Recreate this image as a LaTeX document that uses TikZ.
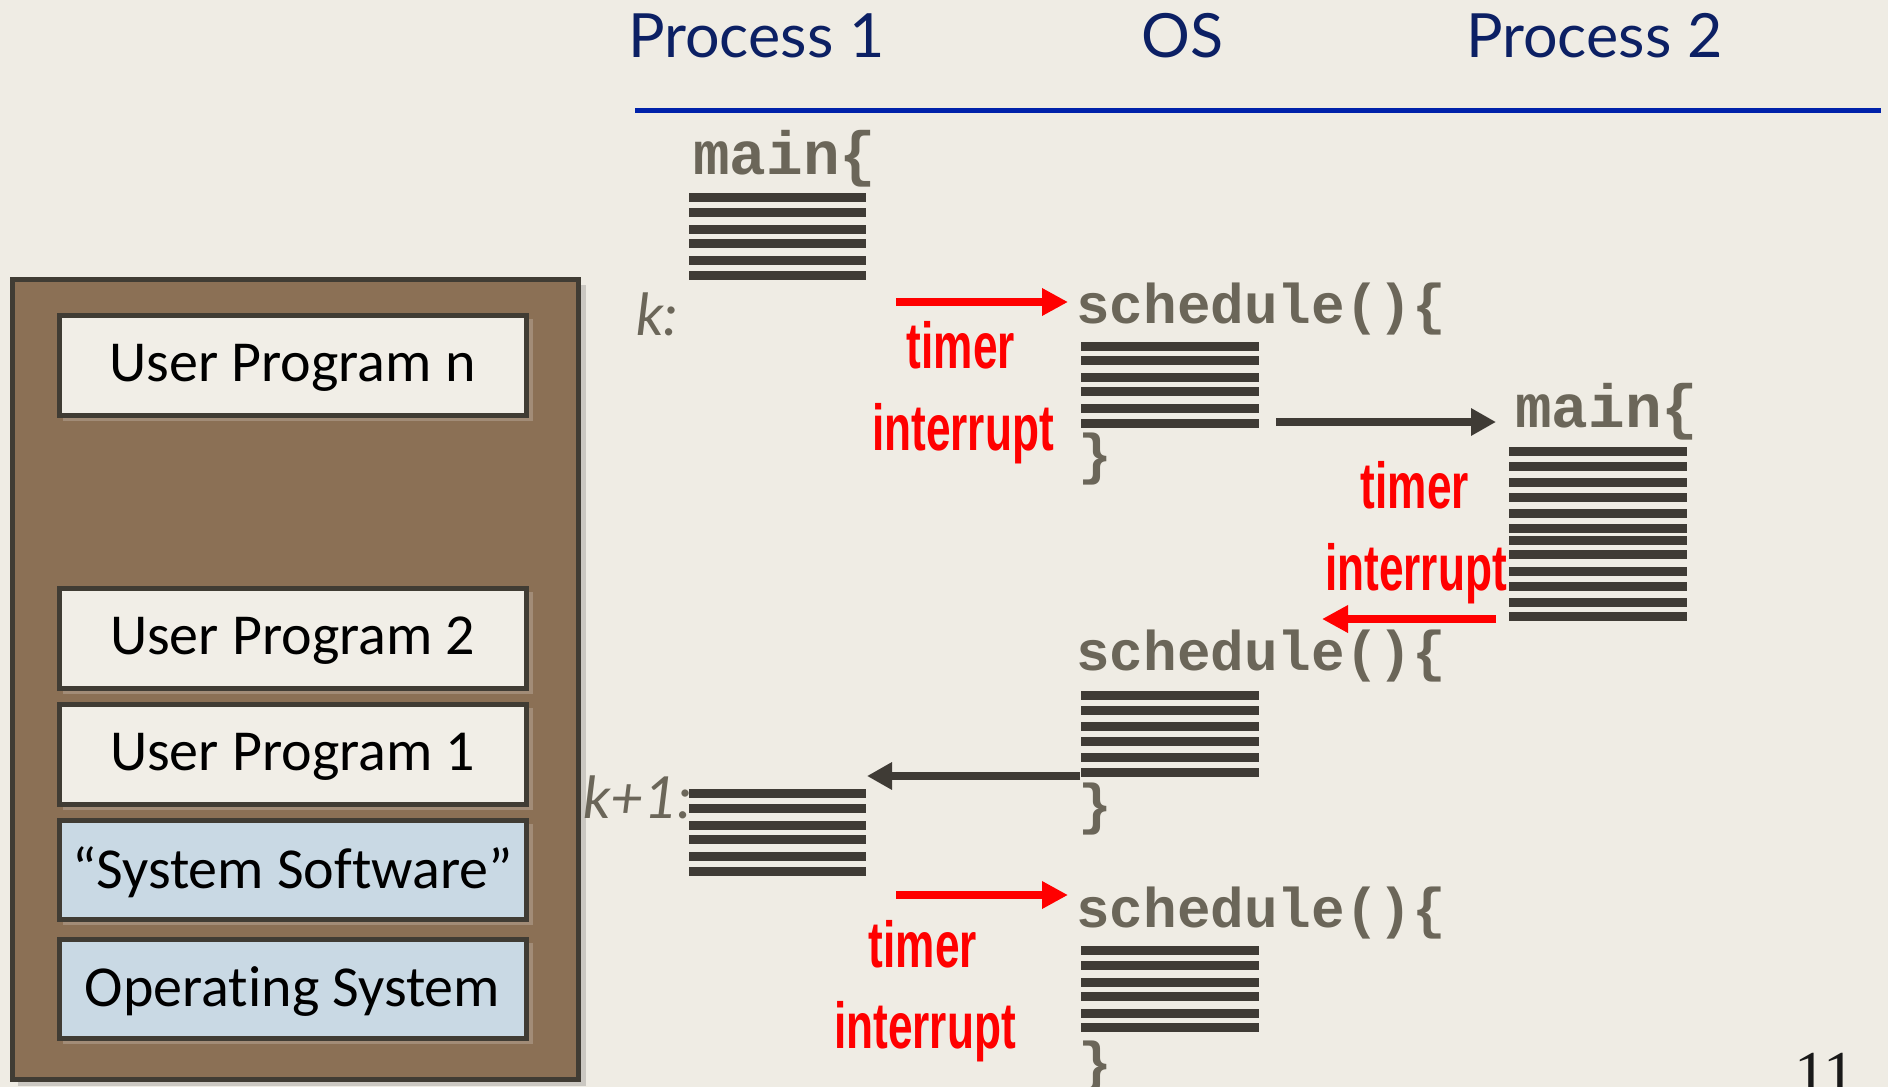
\documentclass[tikz,border=0pt]{standalone}
\usepackage{fontspec}
\setmainfont{Lato}
\newfontfamily\boxfont[Ligatures=NoCommon]{Carlito}
\newfontfamily\codefont{Liberation Mono}
\newfontfamily\impactfont[FakeStretch=0.68]{Liberation Sans}
\newfontfamily\numfont{Liberation Serif}
\usetikzlibrary{arrows.meta}
\definecolor{bgc}{RGB}{239,236,228}
\definecolor{navyc}{RGB}{12,32,100}
\definecolor{rulec}{RGB}{0,34,170}
\definecolor{codec}{RGB}{107,102,89}
\definecolor{barc}{RGB}{63,59,53}
\definecolor{brownc}{RGB}{139,112,85}
\definecolor{framec}{RGB}{64,60,52}
\definecolor{lightc}{RGB}{241,238,231}
\definecolor{bluec}{RGB}{201,217,228}
\definecolor{irqc}{RGB}{255,0,0}
\begin{document}
\begin{tikzpicture}[x=1pt,y=-1pt,
  hdr/.style={font=\fontsize{61}{70}\selectfont, text=navyc, inner sep=0, anchor=base west},
  klabel/.style={font=\fontsize{58}{66}\selectfont\itshape, text=codec, inner sep=0, anchor=base west},
  code/.style={font=\codefont\bfseries\fontsize{56}{60}\selectfont, text=codec, inner sep=0, anchor=base west},
  irq/.style={font=\impactfont\bfseries\fontsize{65}{70}\selectfont, text=irqc, inner sep=0, anchor=base},
  prog/.style={draw=framec, line width=5, minimum width=467, minimum height=100, inner sep=0,
    font=\boxfont\fontsize{58}{64}\selectfont, text=black, fill=lightc, text depth=4pt},
  sysprog/.style={prog, fill=bluec},
  redflow/.style={draw=irqc, line width=8, -{Triangle[length=26pt,width=26pt]}},
  blkflow/.style={draw=barc, line width=8, -{Triangle[length=25pt,width=26pt]}},
  bar/.style={fill=barc}
]
\useasboundingbox (0,0) rectangle (1888,1087);
\fill[bgc] (0,0) rectangle (1888,1087);
\clip (0,0) rectangle (1888,1087);

% header
\node[hdr] (p1) at (628,57) {Process 1};
\node[hdr] (os) at (1141,57) {OS};
\node[hdr] (p2) at (1466,57) {Process 2};
\coordinate (ruleL) at (635,110);
\coordinate (ruleR) at (1881,110);
\draw[rulec, line width=5] (ruleL) -- (ruleR);

% left panel
\fill[black, opacity=0.15] (18,285) rectangle (586,1086);
\node[draw=framec, line width=5, fill=brownc, minimum width=566, minimum height=800, inner sep=0] (mem) at (295,679) {};
\foreach \cy/\h in {365/100,638/100,754/100,869.5/99,988.5/99}
  \fill[brownc!60!white, opacity=0.5] (63,\cy-\h/2+4) rectangle (533,\cy+\h/2+6);
\node[prog] (upn) at (292.5,365) {User Program n};
\node[prog] (up2) at (292.5,638) {User Program 2};
\node[prog] (up1) at (292.5,754) {User Program 1};
\node[sysprog, minimum height=99] (sys) at (292.5,869.5) {“System Software”};
\node[sysprog, minimum height=99] (osys) at (292.5,988.5) {Operating System};

% process 1 first part
\node[code, font=\codefont\bfseries\fontsize{61}{64}\selectfont] (main1) at (693,174) {main\{};
\foreach \t in {193,208,225,239,256,271} \fill[bar] (689,\t) rectangle (866,\t+8.5);
\node[klabel] (k) at (636,335) {k:};

% first interrupt
\coordinate (r1s) at (896,302);
\coordinate (r1e) at (1068,302);
\draw[redflow] (r1s) -- (r1e);
\node[irq] (t1) at (961,368) {timer};
\node[irq] (i1) at (963,450) {interrupt};

% OS schedule 1
\node[code] (s1) at (1076,323) {schedule()\{};
\foreach \t in {342,356,373,387,404,419} \fill[bar] (1081,\t) rectangle (1259,\t+8.5);
\node[code] (c1) at (1078,473) {\}};

% to process 2
\coordinate (b1s) at (1276,422);
\coordinate (b1e) at (1496,422);
\draw[blkflow] (b1s) -- (b1e);
\node[code, font=\codefont\bfseries\fontsize{61}{64}\selectfont] (main2) at (1515,427) {main\{};
\foreach \t in {447,462,478,493,509,524,536,550,567,582,598,612} \fill[bar] (1509,\t) rectangle (1687,\t+8.5);

% second interrupt
\node[irq] (t2) at (1415,508) {timer};
\node[irq] (i2) at (1416,590) {interrupt};
\coordinate (r2s) at (1496,619);
\coordinate (r2e) at (1322,619);
\draw[redflow] (r2s) -- (r2e);

% OS schedule 2
\node[code] (s2) at (1076,670) {schedule()\{};
\foreach \t in {691,706,722,737,753,768} \fill[bar] (1081,\t) rectangle (1259,\t+8.5);
\node[code] (c2) at (1078,823) {\}};
\coordinate (b2s) at (1080,776);
\coordinate (b2e) at (867,776);
\draw[blkflow] (b2s) -- (b2e);

% process 1 resumes
\node[klabel] (k1) at (583,818) {k+1:};
\foreach \t in {789,804,821,835,852,867} \fill[bar] (689,\t) rectangle (866,\t+8.5);

% third interrupt
\coordinate (r3s) at (896,895);
\coordinate (r3e) at (1068,895);
\draw[redflow] (r3s) -- (r3e);
\node[irq] (t3) at (923,967) {timer};
\node[irq] (i3) at (925,1048) {interrupt};
\node[code] (s3) at (1076,927) {schedule()\{};
\foreach \t in {946,961,978,992,1009,1023} \fill[bar] (1081,\t) rectangle (1259,\t+8.5);
\node[code] (c3) at (1078,1081) {\}};

% page number
\node[font=\numfont\fontsize{64}{70}\selectfont, text=black!90, inner sep=0, anchor=base west] (pg) at (1794,1095) {11};
\end{tikzpicture}
\end{document}
